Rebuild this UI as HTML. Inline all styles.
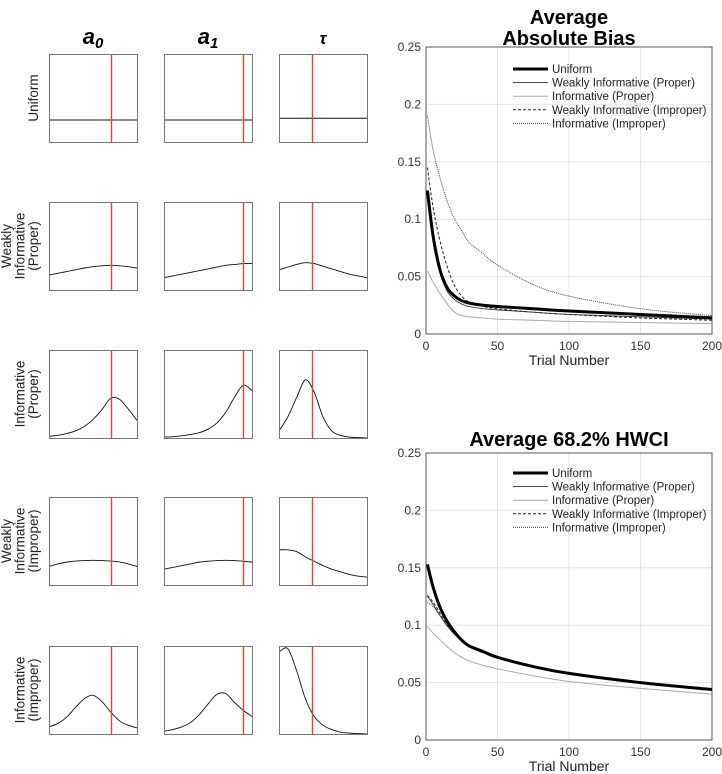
<!DOCTYPE html>
<html><head><meta charset="utf-8"><style>
html,body{margin:0;padding:0;background:#fff;}
svg{display:block;font-family:"Liberation Sans",sans-serif;}
</style></head><body>
<svg id="fig" width="722" height="774" viewBox="0 0 722 774" xmlns="http://www.w3.org/2000/svg"></svg>
<script>
// ---------- small prior panels data (11 samples at x = 0..1, value = fraction of height) ----------
const priorRows = ["Uniform","Weakly Informative (Proper)","Informative (Proper)","Weakly Informative (Improper)","Informative (Improper)"];
const rowLabelLines = [["Uniform"],["Weakly","Informative","(Proper)"],["Informative","(Proper)"],["Weakly","Informative","(Improper)"],["Informative","(Improper)"]];
const paramNames = ["a0","a1","tau"];
const trueValues = [0.70, 0.90, 0.37];
const uniformA0 = [0.25,0.25,0.25,0.25,0.25,0.25,0.25,0.25,0.25,0.25,0.25];
const uniformA1 = [0.25,0.25,0.25,0.25,0.25,0.25,0.25,0.25,0.25,0.25,0.25];
const uniformTau = [0.27,0.27,0.27,0.27,0.27,0.27,0.27,0.27,0.27,0.27,0.27];
const wipA0 = [0.17,0.19,0.21,0.23,0.25,0.265,0.275,0.28,0.275,0.265,0.25];
const wipA1 = [0.14,0.16,0.18,0.20,0.22,0.24,0.26,0.28,0.29,0.30,0.30];
const wipTau = [0.23,0.26,0.29,0.31,0.30,0.27,0.24,0.21,0.18,0.16,0.14];
const ipA0 = [0.02,0.03,0.05,0.08,0.13,0.21,0.32,0.45,0.44,0.33,0.20];
const ipA1 = [0.01,0.015,0.025,0.04,0.06,0.10,0.17,0.29,0.46,0.60,0.54];
const ipTau = [0.08,0.24,0.46,0.66,0.52,0.24,0.08,0.03,0.01,0.005,0.0];
const wiiA0 = [0.21,0.24,0.26,0.272,0.278,0.28,0.278,0.272,0.262,0.24,0.21];
const wiiA1 = [0.18,0.20,0.22,0.24,0.26,0.27,0.278,0.28,0.278,0.27,0.26];
const wiiTau = [0.40,0.40,0.38,0.32,0.27,0.22,0.18,0.15,0.12,0.10,0.09];
const iiA0 = [0.08,0.12,0.19,0.30,0.40,0.44,0.37,0.25,0.15,0.10,0.07];
const iiA1 = [0.03,0.05,0.08,0.13,0.22,0.34,0.45,0.46,0.36,0.27,0.20];
const iiTau = [0.93,0.97,0.72,0.40,0.20,0.10,0.05,0.02,0.01,0.005,0.0];
const priorCurves = [[uniformA0,uniformA1,uniformTau],[wipA0,wipA1,wipTau],[ipA0,ipA1,ipTau],[wiiA0,wiiA1,wiiTau],[iiA0,iiA1,iiTau]];

// ---------- line chart data ----------
const trials = [1,5,10,15,20,25,30,40,50,75,100,150,200];
const seriesNames = ["Uniform","Weakly Informative (Proper)","Informative (Proper)","Weakly Informative (Improper)","Informative (Improper)"];
const biasUniform = [0.125,0.085,0.055,0.040,0.033,0.029,0.027,0.025,0.024,0.022,0.020,0.017,0.014];
const biasWIP = [0.120,0.080,0.052,0.037,0.030,0.026,0.024,0.022,0.021,0.019,0.017,0.015,0.013];
const biasIP = [0.055,0.045,0.035,0.026,0.019,0.016,0.015,0.014,0.013,0.012,0.011,0.010,0.009];
const biasWII = [0.145,0.110,0.080,0.058,0.042,0.033,0.028,0.024,0.022,0.019,0.017,0.014,0.012];
const biasII = [0.190,0.160,0.135,0.115,0.100,0.090,0.080,0.070,0.060,0.043,0.033,0.022,0.016];
const hwUniform = [0.153,0.133,0.115,0.103,0.094,0.087,0.082,0.077,0.072,0.064,0.058,0.050,0.044];
const hwWIP = [0.125,0.118,0.108,0.099,0.092,0.086,0.081,0.076,0.072,0.064,0.058,0.050,0.044];
const hwIP = [0.099,0.093,0.087,0.081,0.076,0.072,0.069,0.065,0.062,0.056,0.051,0.045,0.040];
const hwWII = [0.126,0.120,0.110,0.100,0.093,0.087,0.082,0.077,0.072,0.064,0.058,0.050,0.044];
const hwII = [0.120,0.116,0.108,0.100,0.093,0.087,0.082,0.077,0.072,0.064,0.058,0.050,0.044];
const xTicks = [0,50,100,150,200];
const yTicks = [0,0.05,0.1,0.15,0.2,0.25];
const yTickLabels = ["0","0.05","0.1","0.15","0.2","0.25"];

const NS="http://www.w3.org/2000/svg";
const svg=document.getElementById('fig');
function el(tag,attrs,parent){const e=document.createElementNS(NS,tag);for(const k in attrs)e.setAttribute(k,attrs[k]);(parent||svg).appendChild(e);return e;}
function smoothPath(pts){let d="M"+pts[0][0]+","+pts[0][1];for(let i=0;i<pts.length-1;i++){const p0=pts[Math.max(0,i-1)],p1=pts[i],p2=pts[i+1],p3=pts[Math.min(pts.length-1,i+2)];
const c1=[p1[0]+(p2[0]-p0[0])/6,p1[1]+(p2[1]-p0[1])/6],c2=[p2[0]-(p3[0]-p1[0])/6,p2[1]-(p3[1]-p1[1])/6];d+=" C"+c1[0].toFixed(2)+","+c1[1].toFixed(2)+" "+c2[0].toFixed(2)+","+c2[1].toFixed(2)+" "+p2[0].toFixed(2)+","+p2[1].toFixed(2);}return d;}

// ---------- small panels ----------
const colX=[49,164,279], pw=88, ph=88, rowY=[54,202,350,497,646];
const colTitles=[["a","0"],["a","1"],["τ",""]];
colTitles.forEach((t,c)=>{
  const g=el('text',{x:colX[c]+pw/2,y:44,'text-anchor':'middle','font-size':t[0]==="τ"?17:22,'font-weight':'bold','font-style':'italic'});
  
  
  g.textContent=t[0];
  if(t[1]){const s=el('tspan',{'font-size':15,dy:4},g);s.textContent=t[1];}
});
priorRows.forEach((rn,r)=>{
  const lines=rowLabelLines[r];
  const lg=el('text',{transform:`translate(${0},${rowY[r]+ph/2}) rotate(-90)`,'text-anchor':'middle','font-size':13.5,fill:'#222'});
  
  
  const x0=38-(lines.length-1)*13.5;
  lines.forEach((ln,i)=>{const t=el('tspan',{x:0,y:x0+i*13.5},lg);t.textContent=ln;});
  paramNames.forEach((pn,c)=>{
    const x=colX[c],y=rowY[r];
    const g=el('g',{});
    
    
    const vals=priorCurves[r][c];
    const pts=vals.map((v,i)=>[x+pw*i/(vals.length-1),y+ph-v*ph]);
    const cp=el('path',{d:smoothPath(pts),fill:'none',stroke:'#111','stroke-width':0.9},g);
    
    
    const tv=Math.round(x+trueValues[c]*pw)+0.5;
    const rl=el('line',{x1:tv,x2:tv,y1:y,y2:y+ph,stroke:'#e8403f','stroke-width':1.4},g);
    
    
    const bx=el('rect',{x:x+0.5,y:y+0.5,width:pw,height:ph,fill:'none',stroke:'#777','stroke-width':1},g);
    
    
  });
});

// ---------- line charts ----------
const styles=[{w:3,c:'#000',d:''},{w:0.9,c:'#333',d:''},{w:1,c:'#aaa',d:''},{w:1,c:'#222',d:'3,2'},{w:1,c:'#444',d:'1,1'}];
function lineChart(name,top,bottom,titleLines,titleYs,series,legendY){
  const L=426,R=712;
  const g=el('g',{});
  
  
  const xs=v=>L+(v-0)/200*(R-L), ys=v=>bottom-v/0.25*(bottom-top);
  titleLines.forEach((t,i)=>{const tt=el('text',{x:569,y:titleYs[i],'text-anchor':'middle','font-size':20,'font-weight':'bold'},g);
    
    
    tt.textContent=t;});
  xTicks.forEach(v=>{const l=el('line',{x1:xs(v),x2:xs(v),y1:top,y2:bottom,stroke:'#e6e6e6'},g);
    
    
    const t=el('text',{x:xs(v),y:bottom+16,'text-anchor':'middle','font-size':12,fill:'#333'},g);
    
    
    t.textContent=v;});
  yTicks.forEach((v,i)=>{const l=el('line',{x1:L,x2:R,y1:ys(v),y2:ys(v),stroke:'#e6e6e6'},g);
    
    
    const t=el('text',{x:L-5,y:ys(v)+4,'text-anchor':'end','font-size':12,fill:'#333'},g);
    
    
    t.textContent=yTickLabels[i];});
  const fr=el('rect',{x:L,y:top,width:R-L,height:bottom-top,fill:'none',stroke:'#555','stroke-width':1},g);
  
  
  const xl=el('text',{x:569,y:bottom+31,'text-anchor':'middle','font-size':14,fill:'#222'},g);
  
  
  xl.textContent="Trial Number";
  for(let s=series.length-1;s>=0;s--){
    const st=styles[s];
    const pts=trials.map((t,i)=>[xs(t),ys(series[s][i])]);
    const p=el('path',{d:smoothPath(pts),fill:'none',stroke:st.c,'stroke-width':st.w,'stroke-dasharray':st.d},g);
    
    
  }
  seriesNames.forEach((n,i)=>{const st=styles[i];const y=legendY+i*13.6;
    const ll=el('line',{x1:513,x2:548,y1:y,y2:y,stroke:st.c,'stroke-width':st.w,'stroke-dasharray':st.d},g);
    
    
    const t=el('text',{x:552,y:y+4,'font-size':11.5,fill:'#222'},g);
    
    
    t.textContent=n;});
}
lineChart('bias-chart',47,334,["Average","Absolute Bias"],[24,45],[biasUniform,biasWIP,biasIP,biasWII,biasII],69);
lineChart('hwci-chart',453,740,["Average 68.2% HWCI"],[446],[hwUniform,hwWIP,hwIP,hwWII,hwII],473);
</script>
</body></html>
